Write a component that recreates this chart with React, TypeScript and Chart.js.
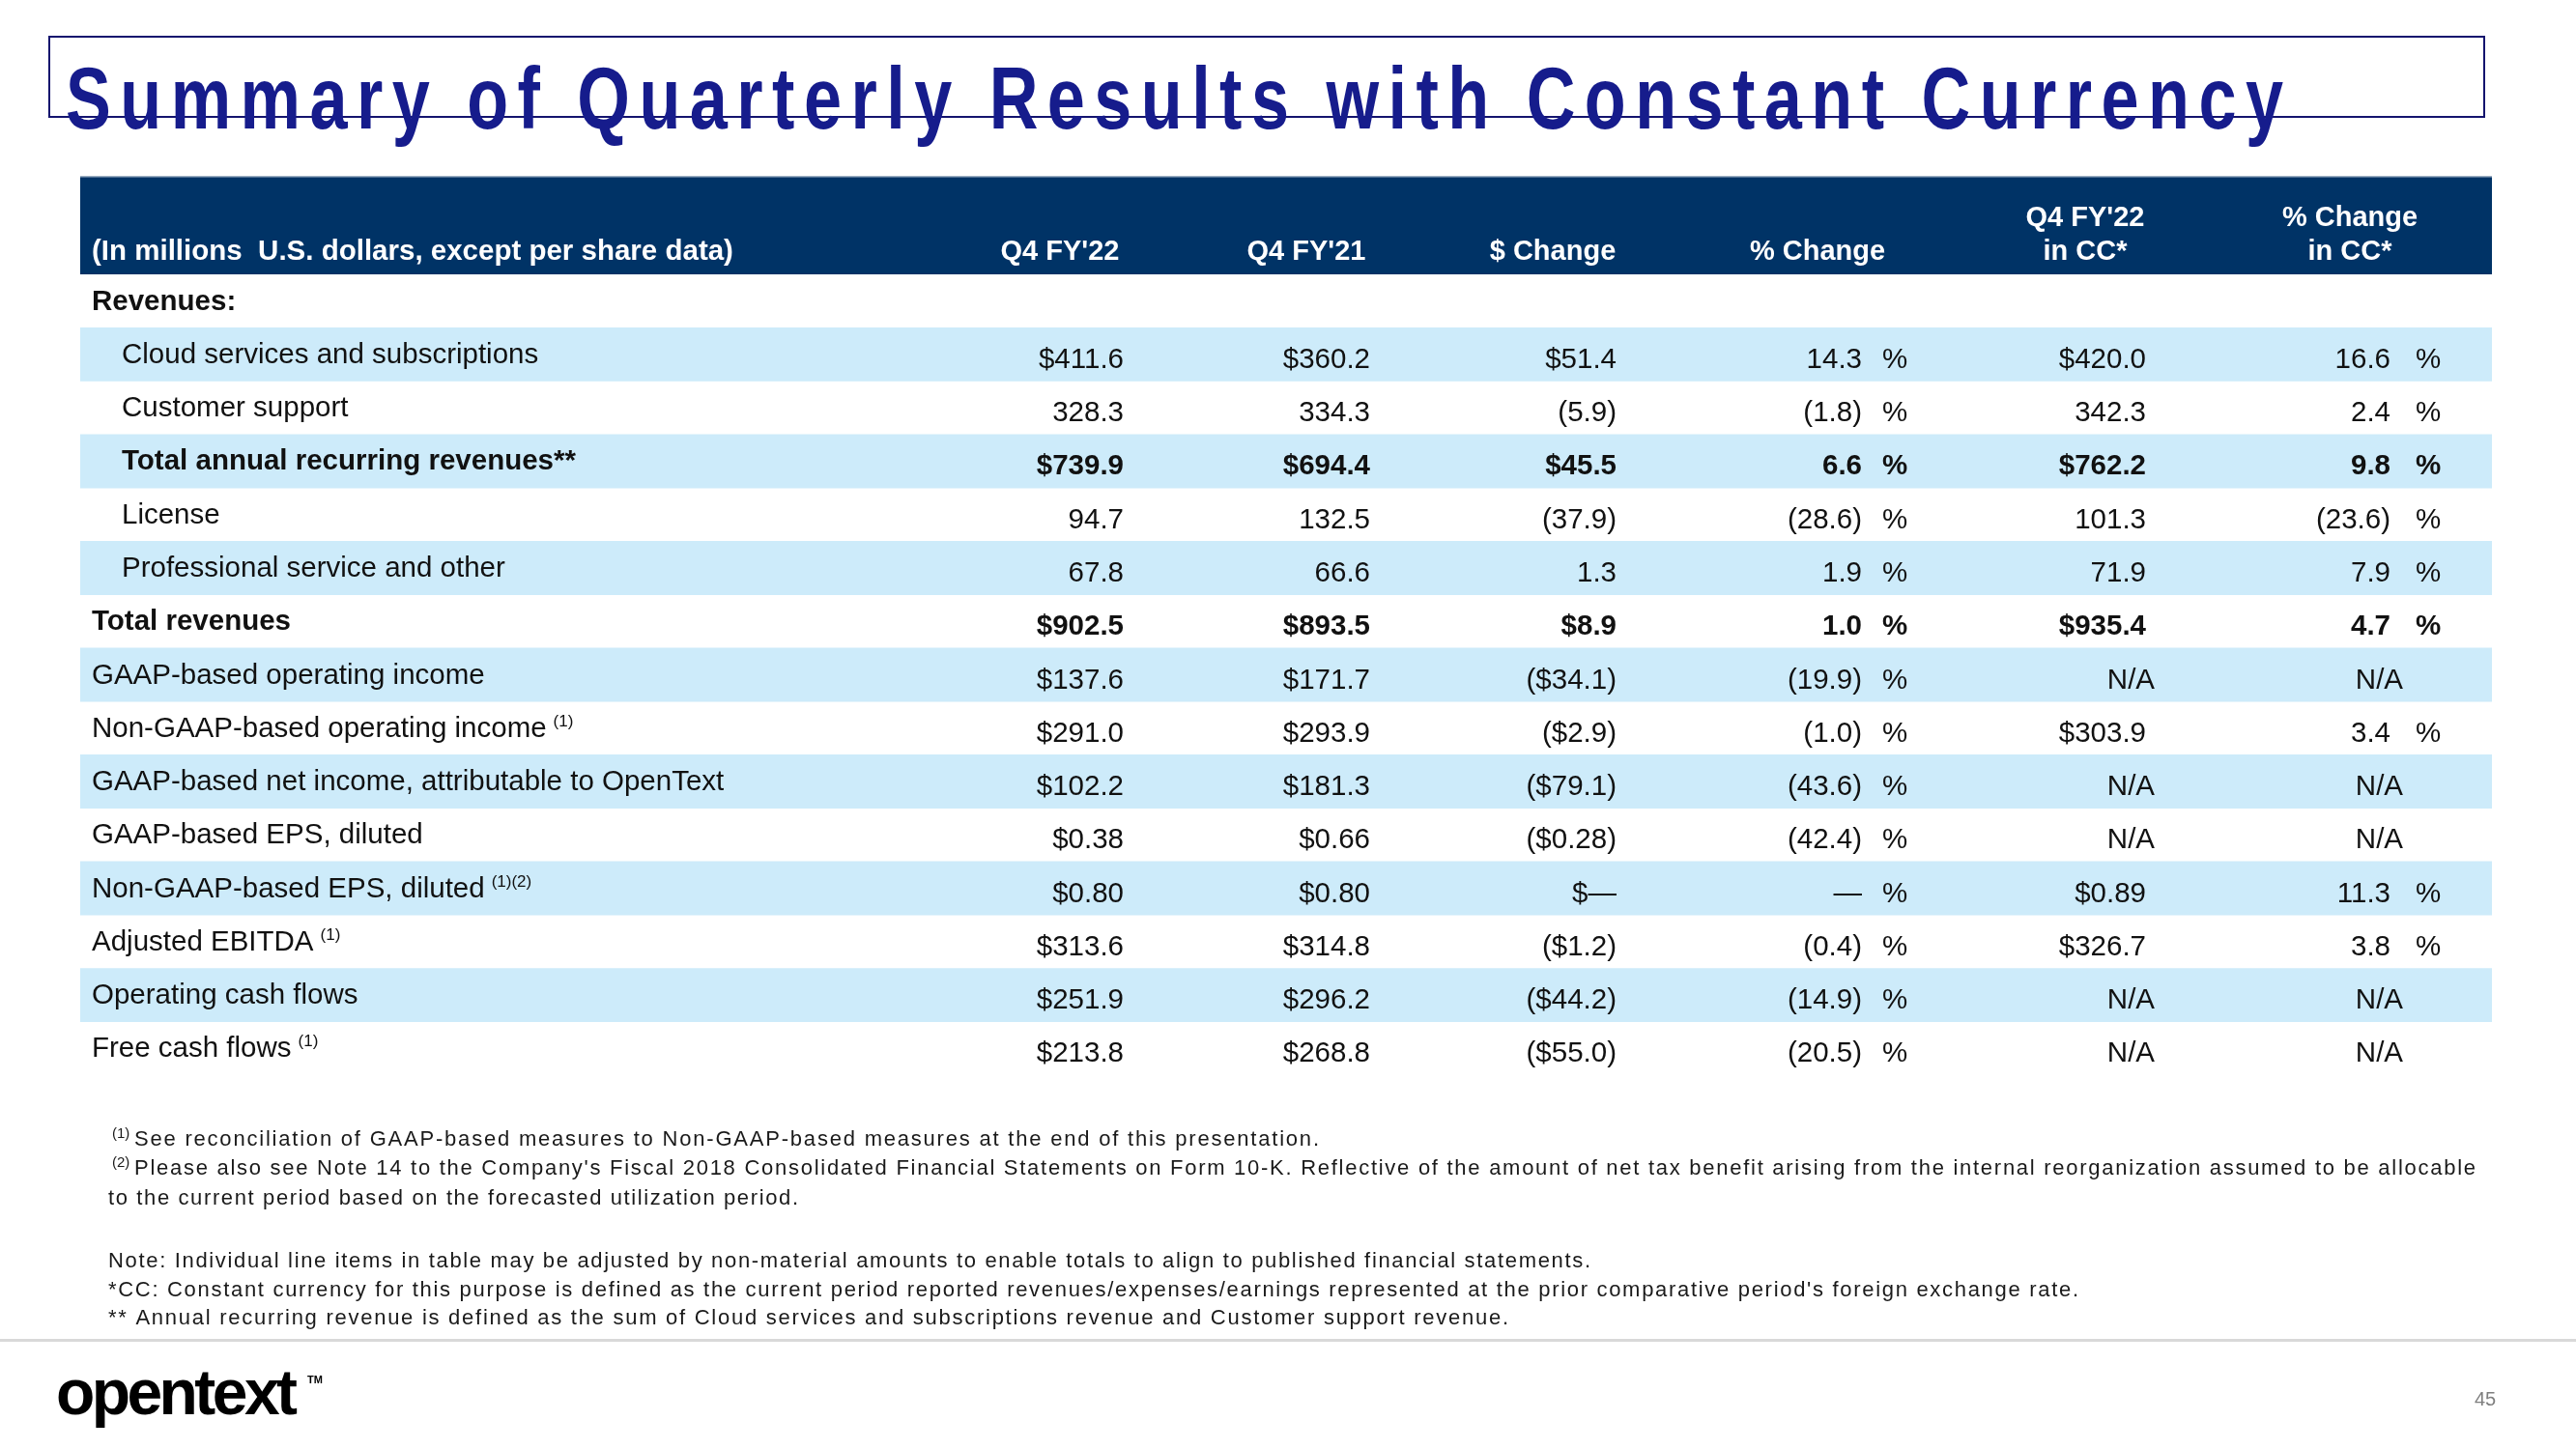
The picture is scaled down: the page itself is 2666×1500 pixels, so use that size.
import React, { useEffect, useRef } from "react";
import { Chart, registerables } from "chart.js";

Chart.register(...registerables);

// ---------- data ----------
const titleText = "Summary of Quarterly Results with Constant Currency";
const unitsHeader = "(In millions  U.S. dollars, except per share data)";
const columnHeaders: string[][] = [
  ["Q4 FY'22"],
  ["Q4 FY'21"],
  ["$ Change"],
  ["% Change"],
  ["Q4 FY'22", "in CC*"],
  ["% Change", "in CC*"],
];

const rowLabels = [
  "Revenues:",
  "Cloud services and subscriptions",
  "Customer support",
  "Total annual recurring revenues**",
  "License",
  "Professional service and other",
  "Total revenues",
  "GAAP-based operating income",
  "Non-GAAP-based operating income",
  "GAAP-based net income, attributable to OpenText",
  "GAAP-based EPS, diluted",
  "Non-GAAP-based EPS, diluted",
  "Adjusted EBITDA",
  "Operating cash flows",
  "Free cash flows",
];
const rowNotes = ["", "", "", "", "", "", "", "", "(1)", "", "", "(1)(2)", "(1)", "", "(1)"];
const indentedRows = [1, 2, 3, 4, 5];
const boldRows = [0, 3, 6];
const stripedRows = [1, 3, 5, 7, 9, 11, 13];

const q4FY22 = ["", "$411.6", "328.3", "$739.9", "94.7", "67.8", "$902.5", "$137.6", "$291.0", "$102.2", "$0.38", "$0.80", "$313.6", "$251.9", "$213.8"];
const q4FY21 = ["", "$360.2", "334.3", "$694.4", "132.5", "66.6", "$893.5", "$171.7", "$293.9", "$181.3", "$0.66", "$0.80", "$314.8", "$296.2", "$268.8"];
const dollarChange = ["", "$51.4", "(5.9)", "$45.5", "(37.9)", "1.3", "$8.9", "($34.1)", "($2.9)", "($79.1)", "($0.28)", "$\u2014", "($1.2)", "($44.2)", "($55.0)"];
const pctChange = ["", "14.3", "(1.8)", "6.6", "(28.6)", "1.9", "1.0", "(19.9)", "(1.0)", "(43.6)", "(42.4)", "\u2014", "(0.4)", "(14.9)", "(20.5)"];
const q4FY22CC = ["", "$420.0", "342.3", "$762.2", "101.3", "71.9", "$935.4", "N/A", "$303.9", "N/A", "N/A", "$0.89", "$326.7", "N/A", "N/A"];
const pctChangeCC = ["", "16.6", "2.4", "9.8", "(23.6)", "7.9", "4.7", "N/A", "3.4", "N/A", "N/A", "11.3", "3.8", "N/A", "N/A"];

const columns = [q4FY22, q4FY21, dollarChange, pctChange, q4FY22CC, pctChangeCC];
const percentColumns = [3, 5];

const footnotes: { sup: string; text: string }[] = [
  { sup: "(1)", text: "See reconciliation of GAAP-based measures to Non-GAAP-based measures at the end of this presentation." },
  { sup: "(2)", text: "Please also see Note 14 to the Company's Fiscal 2018 Consolidated Financial Statements on Form 10-K. Reflective of the amount of net tax benefit arising from the internal reorganization assumed to be allocable" },
  { sup: "", text: "to the current period based on the forecasted utilization period." },
  { sup: "", text: "Note: Individual line items in table may be adjusted by non-material amounts to enable totals to align to published financial statements." },
  { sup: "", text: "*CC: Constant currency for this purpose is defined as the current period reported revenues/expenses/earnings represented at the prior comparative period's foreign exchange rate." },
  { sup: "", text: "** Annual recurring revenue is defined as the sum of Cloud services and subscriptions revenue and Customer support revenue." },
];
const logoText = "opentext";
const pageNumber = "45";

// ---------- layout / style ----------
const W = 2666;
const H = 1500;
const TABLE_LEFT = 83;
const TABLE_RIGHT = 2579;
const ROWS_TOP = 284;
const ROWS_BOTTOM = 1113;
const HEADER_TOP = 182;
const FONT = '"Liberation Sans", Arial, sans-serif';
const NAVY = "#003366";
const STRIPE = "#CDEBFA";
const TITLE_BLUE = "#161C8C";

const colRight = [1163, 1418, 1673, 1927, 2221, 2474];
const colHeaderCenter = [1097, 1352, 1607, 1881, 2158, 2432];
const pctSignLeft: Record<number, number> = { 3: 1948, 5: 2500 };
const naRight: Record<number, number> = { 4: 2230, 5: 2487 };

const footnoteLayout = [
  { x: 139, y: 1186, w: 1226 },
  { x: 139, y: 1216, w: 2423 },
  { x: 112, y: 1247, w: 714 },
  { x: 112, y: 1312, w: 1534 },
  { x: 112, y: 1342, w: 2039 },
  { x: 112, y: 1371, w: 1449 },
];

function drawFitted(ctx: CanvasRenderingContext2D, text: string, x: number, y: number, target: number) {
  const chars = Array.from(text);
  const widths = chars.map((c) => ctx.measureText(c).width);
  const natural = widths.reduce((a, b) => a + b, 0);
  const ls = chars.length > 1 ? (target - natural) / (chars.length - 1) : 0;
  let cx = x;
  chars.forEach((c, i) => {
    ctx.fillText(c, cx, y);
    cx += widths[i] + ls;
  });
}

const tablePlugin = {
  id: "tablePlugin",
  beforeDatasetsDraw(chart: any) {
    const ctx: CanvasRenderingContext2D = chart.ctx;
    const xs = chart.scales.x;
    const area = chart.chartArea;
    ctx.save();
    // title box
    ctx.strokeStyle = "#14146E";
    ctx.lineWidth = 2;
    ctx.strokeRect(51, 38, 2520, 83);
    // title
    ctx.fillStyle = TITLE_BLUE;
    ctx.font = `bold 90px ${FONT}`;
    ctx.textAlign = "left";
    ctx.textBaseline = "alphabetic";
    const sx = 0.78;
    ctx.save();
    ctx.translate(68, 133);
    ctx.scale(sx, 1);
    drawFitted(ctx, titleText, 0, 0, 2295 / sx);
    ctx.restore();

    // header band
    ctx.fillStyle = NAVY;
    ctx.fillRect(area.left, HEADER_TOP, area.right - area.left, area.top - HEADER_TOP);
    ctx.fillStyle = "#9fb0c4";
    ctx.fillRect(area.left, HEADER_TOP, area.right - area.left, 1.5);

    ctx.fillStyle = "#ffffff";
    ctx.font = `bold 29.5px ${FONT}`;
    ctx.textAlign = "left";
    ctx.fillText(unitsHeader, 95, 269);
    ctx.font = `bold 29px ${FONT}`;
    ctx.textAlign = "center";
    columnHeaders.forEach((lines, c) => {
      const cx = xs.getPixelForValue(colHeaderCenter[c]);
      if (lines.length === 1) {
        ctx.fillText(lines[0], cx, 269);
      } else {
        ctx.fillText(lines[0], cx, 234);
        ctx.fillText(lines[1], cx, 269);
      }
    });

    // footer separator
    ctx.fillStyle = "#d9d9d9";
    ctx.fillRect(0, 1386, W, 3);

    // footnotes
    ctx.fillStyle = "#1a1a1a";
    ctx.textAlign = "left";
    footnotes.forEach((f, i) => {
      const L = footnoteLayout[i];
      if (f.sup) {
        ctx.font = `15px ${FONT}`;
        ctx.fillText(f.sup, 116, L.y - 8);
      }
      ctx.font = `22px ${FONT}`;
      drawFitted(ctx, f.text, L.x, L.y, L.w);
    });

    // logo
    ctx.fillStyle = "#000000";
    ctx.font = `bold 66px ${FONT}`;
    drawFitted(ctx, logoText, 58, 1464, 250);
    ctx.font = `bold 11px ${FONT}`;
    ctx.fillText("TM", 318, 1432);

    // page number
    ctx.fillStyle = "#7f7f7f";
    ctx.font = `20px ${FONT}`;
    drawFitted(ctx, pageNumber, 2561, 1455, 22);
    ctx.restore();
  },
  afterDatasetsDraw(chart: any) {
    const ctx: CanvasRenderingContext2D = chart.ctx;
    const xs = chart.scales.x;
    const ys = chart.scales.y;
    ctx.save();
    ctx.fillStyle = "#111111";
    ctx.textBaseline = "alphabetic";
    rowLabels.forEach((label, r) => {
      const mid = ys.getPixelForValue(r);
      const bold = boldRows.includes(r);
      const lx = indentedRows.includes(r) ? 126 : 95;
      ctx.font = `${bold ? "bold " : ""}29.5px ${FONT}`;
      ctx.textAlign = "left";
      ctx.fillText(label, lx, mid + 9);
      const lw = ctx.measureText(label).width;
      if (rowNotes[r]) {
        ctx.font = `17px ${FONT}`;
        ctx.fillText(rowNotes[r], lx + lw + 7, mid - 2);
      }
      ctx.font = `${bold && r > 0 ? "bold " : ""}29.5px ${FONT}`;
      columns.forEach((col, c) => {
        const v = col[r];
        if (!v) return;
        const y = mid + 14;
        if (v === "N/A") {
          ctx.textAlign = "right";
          ctx.fillText(v, xs.getPixelForValue(naRight[c] ?? colRight[c]), y);
          return;
        }
        ctx.textAlign = "right";
        ctx.fillText(v, xs.getPixelForValue(colRight[c]), y);
        if (percentColumns.includes(c)) {
          ctx.textAlign = "left";
          ctx.fillText("%", xs.getPixelForValue(pctSignLeft[c]), y);
        }
      });
    });
    ctx.restore();
  },
};

export default function App() {
  const ref = useRef<HTMLCanvasElement | null>(null);
  useEffect(() => {
    document.body.style.margin = "0";
    const canvas = ref.current;
    if (!canvas) return;
    const stripeData = rowLabels.map((_, i) => (stripedRows.includes(i) ? [TABLE_LEFT, TABLE_RIGHT] : null));
    const chart = new Chart(canvas, {
      type: "bar",
      data: {
        labels: rowLabels,
        datasets: [
          {
            data: stripeData as any,
            backgroundColor: STRIPE,
            borderWidth: 0,
            barPercentage: 1,
            categoryPercentage: 1,
          },
        ],
      },
      options: {
        indexAxis: "y",
        responsive: false,
        animation: false,
        devicePixelRatio: 1,
        layout: {
          padding: { left: TABLE_LEFT, right: W - TABLE_RIGHT, top: ROWS_TOP, bottom: H - ROWS_BOTTOM },
        },
        scales: {
          x: { type: "linear", min: TABLE_LEFT, max: TABLE_RIGHT, display: false },
          y: { type: "category", display: false, offset: true },
        },
        plugins: { legend: { display: false }, tooltip: { enabled: false }, title: { display: false } },
      },
      plugins: [tablePlugin],
    });
    return () => chart.destroy();
  }, []);
  return (
    <div style={{ position: "absolute", left: 0, top: 0, width: W, height: H, background: "#fff" }}>
      <canvas ref={ref} width={W} height={H} style={{ display: "block", width: W, height: H }} />
    </div>
  );
}
